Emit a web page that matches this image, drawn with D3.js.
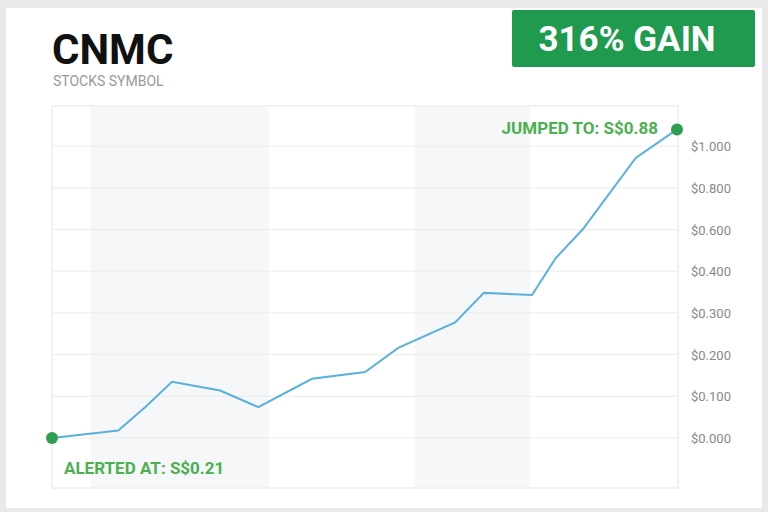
<!DOCTYPE html>
<html><head><meta charset="utf-8">
<script src="https://cdn.jsdelivr.net/npm/d3@7"></script>
<style>body{margin:0;background:#e9e9e9;font-family:Roboto,"Open Sans",sans-serif}</style>
</head><body>
<script>
const xPos = [0,10.6,14.9,19.2,26.9,33,41.6,50.1,55.4,64.5,69.1,76.8,80.6,84.9,93.4,100];
const prices = [0,0.018,0.074,0.135,0.114,0.074,0.142,0.158,0.216,0.277,0.348,0.343,0.463,0.6,0.943,1.08];
const tickValues = [0,0.1,0.2,0.3,0.4,0.6,0.8,1.0];
const tickLabels = ["$0.000","$0.100","$0.200","$0.300","$0.400","$0.600","$0.800","$1.000"];
const bands = [[6.2,34.7],[58.1,76.5]];
const title = "CNMC", subtitle = "STOCKS SYMBOL", badge = "316% GAIN";
const startLabel = "ALERTED AT: S$0.21", endLabel = "JUMPED TO: S$0.88";

const svg = d3.select("body").append("svg").attr("width",768).attr("height",512);
svg.append("rect").attr("x",6).attr("y",8).attr("width",756).attr("height",500).attr("fill","#fff");
const x = d3.scaleLinear().domain([0,100]).range([52,677]);
const y = d3.scaleLinear().domain(tickValues).range(tickValues.map((d,i)=>438-i*41.7));
const green="#2e9e4f";
svg.append("rect").attr("x",52).attr("y",106).attr("width",626).attr("height",382).attr("fill","none").attr("stroke","#e4e4e4");
bands.forEach(b=>svg.append("rect").attr("x",x(b[0])).attr("y",107).attr("width",x(b[1])-x(b[0])).attr("height",380).attr("fill","#f5f7f9"));
tickValues.forEach((v,i)=>{
  svg.append("line").attr("x1",53).attr("x2",677).attr("y1",y(v)).attr("y2",y(v)).attr("stroke","#ececec");
  svg.append("text").attr("x",691).attr("y",y(v)+5).attr("font-size",13).attr("fill","#888").text(tickLabels[i]);
});
const pts = xPos.map((d,i)=>[d,prices[i]]);
svg.append("path").attr("d",d3.line().x(d=>x(d[0])).y(d=>y(d[1]))(pts)).attr("fill","none").attr("stroke","#5ab0dc").attr("stroke-width",2);
[pts[0],pts[pts.length-1]].forEach(p=>svg.append("circle").attr("cx",x(p[0])).attr("cy",y(p[1])).attr("r",6).attr("fill",green));
svg.append("text").attr("x",64).attr("y",474).attr("font-size",17).attr("font-weight","bold").attr("fill","#4caf50").text(startLabel);
svg.append("text").attr("x",658).attr("y",134).attr("text-anchor","end").attr("font-size",17).attr("font-weight","bold").attr("fill","#4caf50").text(endLabel);
svg.append("text").attr("x",52).attr("y",64).attr("font-size",42).attr("font-weight","bold").attr("fill","#111").text(title);
svg.append("text").attr("x",53).attr("y",86).attr("font-size",14).attr("fill","#999").text(subtitle);
svg.append("rect").attr("x",512).attr("y",10).attr("width",243).attr("height",57).attr("rx",2).attr("fill","#1f9a4e");
svg.append("text").attr("x",627).attr("y",51).attr("text-anchor","middle").attr("font-size",35).attr("font-weight","bold").attr("fill","#fff").text(badge);
</script>
</body></html>
